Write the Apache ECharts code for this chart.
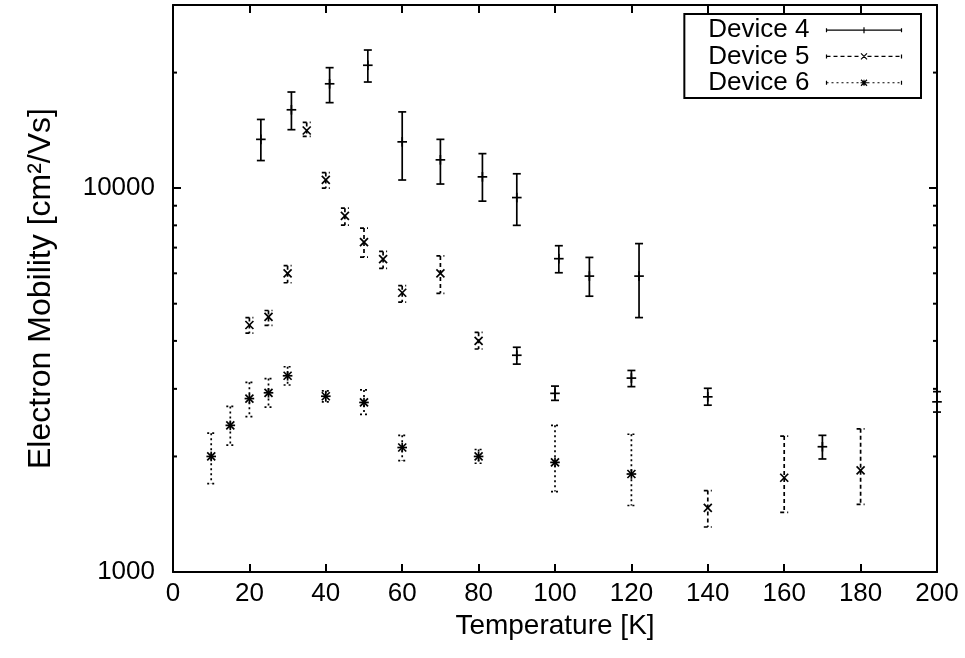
<!DOCTYPE html>
<html><head><meta charset="utf-8">
<script src="https://cdn.jsdelivr.net/npm/echarts@6/dist/echarts.min.js"></script>
<style>html,body{margin:0;padding:0;background:#fff}#c{width:965px;height:658px}</style>
</head><body><div id="c"></div>
<script>
// x axis (Temperature [K])
const xMin = 0, xMax = 200, xStep = 20;
// y axis (log)
const yMin = 1000, yMax = 30000;
const yMajorLabels = [1000, 10000];
const yMinorTicks = [2000, 3000, 4000, 5000, 6000, 7000, 8000, 9000, 20000];

// [temperature, mobility, lower, upper]
const device4 = [
  [23, 13400, 11800, 15100], [31, 16000, 14200, 17800], [41, 18700, 16700, 20600],
  [51, 20900, 18900, 22900], [60, 13200, 10500, 15800], [70, 11850, 10250, 13400],
  [81, 10700, 9250, 12300], [90, 9450, 8000, 10900], [101, 6550, 6020, 7080],
  [109, 5900, 5230, 6600], [122, 5900, 4600, 7170],
  [90, 3670, 3480, 3850], [100, 2920, 2800, 3050], [120, 3200, 3040, 3350],
  [140, 2860, 2720, 3010], [170, 2120, 1970, 2270], [200, 2775, 2610, 2950]
];
const device5 = [
  [20, 4400, 4190, 4600], [25, 4620, 4390, 4800], [30, 6000, 5670, 6280],
  [35, 14130, 13640, 14830], [40, 10510, 10000, 10980], [45, 8470, 8010, 8870],
  [50, 7230, 6610, 7870], [55, 6530, 6180, 6840], [60, 5340, 5050, 5570],
  [70, 6000, 5320, 6660], [80, 4000, 3810, 4210],
  [140, 1470, 1310, 1630], [160, 1760, 1430, 2260], [180, 1840, 1500, 2360]
];
const device6 = [
  [10, 2000, 1700, 2300], [15, 2410, 2140, 2700], [20, 2830, 2540, 3120],
  [25, 2930, 2690, 3190], [30, 3245, 3070, 3425], [40, 2870, 2775, 2965],
  [50, 2765, 2575, 2980], [60, 2110, 1950, 2270], [80, 2000, 1920, 2085],
  [100, 1930, 1620, 2410], [120, 1800, 1490, 2285]
];
const seriesNames = ['Device 4', 'Device 5', 'Device 6'];

const FONT = 'Liberation Sans, Arial, sans-serif';
const FS = 26;

function errRender(kind, dash) {
  return function (params, api) {
    const x = api.value(0), v = api.value(1), lo = api.value(2), hi = api.value(3);
    const c = api.coord([x, v]), a = api.coord([x, hi]), b = api.coord([x, lo]);
    const cap = 4;
    const st = { stroke: '#000', lineWidth: 1.7, lineDash: dash, fill: null };
    const ms = { stroke: '#000', lineWidth: 1.7, fill: null };
    const ch = [
      { type: 'line', shape: { x1: a[0], y1: a[1], x2: b[0], y2: b[1] }, style: st },
      { type: 'line', shape: { x1: a[0] - cap, y1: a[1], x2: a[0] + cap, y2: a[1] }, style: st },
      { type: 'line', shape: { x1: b[0] - cap, y1: b[1], x2: b[0] + cap, y2: b[1] }, style: st }
    ];
    if (kind === 'plus' || kind === 'star') {
      const m = 4.8;
      ch.push({ type: 'line', shape: { x1: c[0] - m, y1: c[1], x2: c[0] + m, y2: c[1] }, style: ms });
      ch.push({ type: 'line', shape: { x1: c[0], y1: c[1] - m, x2: c[0], y2: c[1] + m }, style: ms });
    }
    if (kind === 'cross' || kind === 'star') {
      const m = 4;
      ch.push({ type: 'line', shape: { x1: c[0] - m, y1: c[1] - m, x2: c[0] + m, y2: c[1] + m }, style: ms });
      ch.push({ type: 'line', shape: { x1: c[0] - m, y1: c[1] + m, x2: c[0] + m, y2: c[1] - m }, style: ms });
    }
    return { type: 'group', children: ch };
  };
}

function minorRender(params, api) {
  const v = api.value(0);
  const l = api.coord([xMin, v]), r = api.coord([xMax, v]);
  const st = { stroke: '#000', lineWidth: 2 };
  return { type: 'group', children: [
    { type: 'line', shape: { x1: l[0], y1: l[1], x2: l[0] + 4, y2: l[1] }, style: st },
    { type: 'line', shape: { x1: r[0] - 4, y1: r[1], x2: r[0], y2: r[1] }, style: st }
  ]};
}

// legend sample icons: line with end caps, the dash pattern built into the path, marker in middle
function sampleIcon(dash, gap, marker) {
  let p = 'M0,2L0,6M75,2L75,6';
  const segs = (a, b) => {
    if (!dash) { p += 'M' + a + ',4L' + b + ',4'; return; }
    for (let s = a; s < b; s += dash + gap) p += 'M' + s + ',4L' + Math.min(s + dash, b) + ',4';
  };
  if (dash) { segs(0, 34); segs(41, 75); } else segs(0, 75);
  const cx = 37.5;
  if (marker === 'plus' || marker === 'star') p += 'M' + cx + ',1L' + cx + ',7';
  if (marker === 'star') p += 'M34,4L41,4';
  if (marker === 'cross' || marker === 'star') p += 'M34.5,1L40.5,7M34.5,7L40.5,1';
  return 'path://' + p;
}
const icons = [sampleIcon(0, 0, 'plus'), sampleIcon(4, 3, 'cross'), sampleIcon(2, 3, 'star')];
const dashes = [null, [4, 3], [2, 3]];

const axisLineStyle = { color: '#000', width: 2 };
const tickStyle = { show: true, inside: true, length: 8, lineStyle: { color: '#000', width: 2 } };
const chart = echarts.init(document.getElementById('c'), null, { renderer: 'canvas' });
chart.setOption({
  backgroundColor: '#fff',
  animation: false,
  textStyle: { fontFamily: FONT, color: '#000' },
  grid: { left: 173, right: 28, top: 5, bottom: 86, containLabel: false },
  legend: {
    orient: 'vertical', right: 44, top: 14, align: 'right',
    itemWidth: 75, itemHeight: 6, itemGap: 0,
    padding: [3, 17, 2, 24],
    borderColor: '#000', borderWidth: 2, backgroundColor: '#fff',
    textStyle: { fontFamily: FONT, fontSize: FS, color: '#000', lineHeight: 26.3, padding: [0, 12, 0, 0] },
    selectedMode: false,
    data: seriesNames.map((n, i) => ({
      name: n, icon: icons[i],
      itemStyle: { color: 'none', borderColor: '#000', borderWidth: 1.2, borderType: 'solid' }
    }))
  },
  xAxis: [{
    type: 'value', min: xMin, max: xMax, interval: xStep, position: 'bottom',
    name: 'Temperature [K]', nameLocation: 'middle', nameGap: 34,
    nameTextStyle: { fontFamily: FONT, fontSize: 28, color: '#000' },
    axisLine: { show: true, onZero: false, lineStyle: axisLineStyle },
    axisTick: tickStyle,
    axisLabel: { fontFamily: FONT, fontSize: FS, color: '#000', margin: 9 },
    splitLine: { show: false }
  }, {
    type: 'value', min: xMin, max: xMax, interval: xStep, position: 'top',
    axisLine: { show: true, onZero: false, lineStyle: axisLineStyle },
    axisTick: tickStyle,
    axisLabel: { show: false }, splitLine: { show: false }
  }],
  yAxis: [{
    type: 'log', logBase: 10, min: yMin, max: yMax, position: 'left',
    name: 'Electron Mobility [cm²/Vs]', nameLocation: 'middle', nameGap: 116,
    nameTextStyle: { fontFamily: FONT, fontSize: 32, color: '#000' },
    axisLine: { show: true, onZero: false, lineStyle: axisLineStyle },
    axisTick: tickStyle,
    axisLabel: {
      fontFamily: FONT, fontSize: FS, color: '#000', margin: 18,
      formatter: v => (yMajorLabels.some(t => Math.abs(t - v) < 1e-6) ? String(v) : '')
    },
    splitLine: { show: false }, minorTick: { show: false }
  }, {
    type: 'log', logBase: 10, min: yMin, max: yMax, position: 'right',
    axisLine: { show: true, onZero: false, lineStyle: axisLineStyle },
    axisTick: tickStyle,
    axisLabel: { show: false }, splitLine: { show: false }
  }],
  series: [
    { name: seriesNames[0], type: 'custom', renderItem: errRender('plus', dashes[0]),
      itemStyle: { color: '#000' }, encode: { x: 0, y: 1 }, data: device4, clip: false, z: 3 },
    { name: seriesNames[1], type: 'custom', renderItem: errRender('cross', dashes[1]),
      itemStyle: { color: '#000' }, encode: { x: 0, y: 1 }, data: device5, clip: false, z: 3 },
    { name: seriesNames[2], type: 'custom', renderItem: errRender('star', dashes[2]),
      itemStyle: { color: '#000' }, encode: { x: 0, y: 1 }, data: device6, clip: false, z: 3 },
    { name: 'minorTicks', type: 'custom', renderItem: minorRender,
      encode: { y: 0 }, data: yMinorTicks.map(v => [v]), silent: true, z: 4 }
  ]
});
</script>
</body></html>
